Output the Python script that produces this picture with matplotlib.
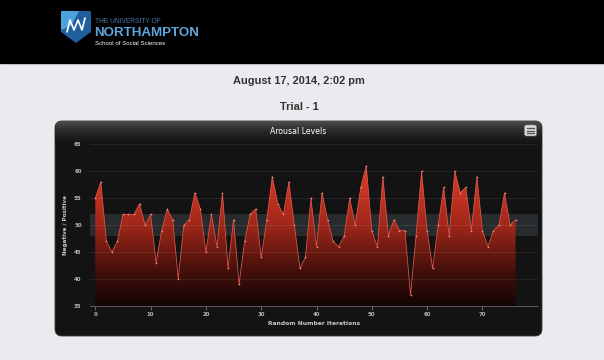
import matplotlib
matplotlib.use('Agg')
import matplotlib.pyplot as plt
import numpy as np
from matplotlib.patches import FancyBboxPatch, Rectangle, Polygon
from matplotlib.colors import LinearSegmentedColormap

# ---------------- data ----------------
iterations = list(range(77))
arousal = [55, 58, 47, 45, 47, 52, 52, 52, 54, 50,
           52, 43, 49, 53, 51, 40, 50, 51, 56, 53,
           45, 52, 46, 56, 42, 51, 39, 47, 52, 53,
           44, 51, 59, 54, 52, 58, 50, 42, 44, 55,
           46, 56, 51, 47, 46, 48, 55, 50, 57, 61,
           49, 46, 59, 48, 51, 49, 49, 37, 48, 60,
           49, 42, 50, 57, 48, 60, 56, 57, 49, 59,
           49, 46, 49, 50, 56, 50, 51]
y_ticks = [35, 40, 45, 50, 55, 60, 65]
x_ticks = [0, 10, 20, 30, 40, 50, 60, 70]
band = [48, 52]
chart_title = "Arousal Levels"
x_label = "Random Number Iterations"
y_label = "Negative / Positive"
date_text = "August 17, 2014, 2:02 pm"
trial_text = "Trial - 1"

# ---------------- figure ----------------
W, H = 604, 360
fig = plt.figure(figsize=(W / 100, H / 100), dpi=100)
fig.patch.set_facecolor('#e9ebee')

bg = fig.add_axes([0, 0, 1, 1])
bg.set_autoscale_on(False)
bg.set_xlim(0, W)
bg.set_ylim(H, 0)
bg.axis('off')

# header bar
bg.add_patch(Rectangle((0, 0), W, 63, color='black', zorder=1))

# logo shield
shield_dark = Polygon([(61, 11), (91, 11), (91, 32), (76, 43), (61, 32)], closed=True,
                      fc='#1f5f9e', ec='none', zorder=2)
bg.add_patch(shield_dark)
shield_light = Polygon([(61, 11), (79, 11), (71, 26), (61, 30)], closed=True,
                       fc='#4aa3dc', ec='none', zorder=3)
bg.add_patch(shield_light)
bg.plot([67, 70, 74, 78, 82, 85], [32, 20, 30, 20, 30, 18], color='white', lw=1.2,
        solid_capstyle='round', zorder=4)

hfont = 'Liberation Sans'
bg.text(95, 21.5, "THE UNIVERSITY OF", fontsize=4.8, color='#4d7bb0', family=hfont,
        va='center', ha='left', zorder=5)
bg.text(94.5, 32.5, "NORTHAMPTON", fontsize=9.6, color='#5ea6dc', family=hfont,
        fontweight='bold', va='center', ha='left', zorder=5)
bg.text(95, 43.5, "School of Social Sciences", fontsize=4.4, color='white', family=hfont,
        va='center', ha='left', zorder=5)

# date / trial
bg.text(298.5, 81, date_text, fontsize=7.9, color='#333333', family=hfont,
        fontweight='bold', ha='center', va='center')
bg.text(299, 106.5, trial_text, fontsize=7.9, color='#333333', family=hfont,
        fontweight='bold', ha='center', va='center')

# chart panel
panel = FancyBboxPatch((55, 121), 487, 215, boxstyle='round,pad=0,rounding_size=7',
                       fc='#131313', ec='#3a3a3a', lw=0.6, zorder=2)
bg.add_patch(panel)
grad = np.linspace(0, 1, 60).reshape(-1, 1)
head_cm = LinearSegmentedColormap.from_list('head', ['#4d4d4d', '#262626', '#141414'])
him = bg.imshow(grad, extent=[55, 542, 143, 121], cmap=head_cm, aspect='auto',
                zorder=3, interpolation='bilinear')
him.set_clip_path(panel)
bg.text(298.5, 131, chart_title, fontsize=5.6, color='white', family='DejaVu Sans',
        ha='center', va='center', zorder=5)

# menu icon
menu = FancyBboxPatch((524.5, 125), 12, 11, boxstyle='round,pad=0,rounding_size=2',
                      fc='#d9d9d9', ec='#888888', lw=0.4, zorder=5)
bg.add_patch(menu)
for yy in (128, 130.5, 133):
    bg.plot([527, 534], [yy, yy], color='#555555', lw=0.9, zorder=6)

bg.set_xlim(0, W)
bg.set_ylim(H, 0)

# ---------------- plot area ----------------
px_left, px_right, px_bottom, px_top = 90, 538, 306, 144.3
ax = fig.add_axes([px_left / W, 1 - px_bottom / H, (px_right - px_left) / W,
                   (px_bottom - px_top) / H])
ax.set_facecolor('none')
ax.set_zorder(3)

x0_px, unit_px = 95.3, 5.53
xmin = (px_left - x0_px) / unit_px
xmax = (px_right - x0_px) / unit_px
ymin, ymax = y_ticks[0], y_ticks[-1]

ax.axhspan(band[0], band[1], color='#282b2e', zorder=0, lw=0)

for yt in y_ticks[1:]:
    ax.axhline(yt, color='#ffffff', alpha=0.09, lw=0.6, zorder=4)

xs = np.array(iterations, dtype=float)
ys = np.array(arousal, dtype=float)
poly = Polygon(list(zip(xs, ys)) + [(xs[-1], ymin), (xs[0], ymin)], closed=True,
               fc='none', ec='none', transform=ax.transData)
ax.add_patch(poly)
area_cm = LinearSegmentedColormap.from_list(
    'area', [(0.0, '#140505'), (0.22, '#45100a'), (0.5, '#a0271a'),
             (0.8, '#d43a26'), (1.0, '#e8472f')])
g2 = np.linspace(0, 1, 300).reshape(-1, 1)
aim = ax.imshow(g2, extent=[xs[0], xs[-1], ymin, ymax], cmap=area_cm, origin='lower',
                aspect='auto', zorder=2, interpolation='bilinear')
aim.set_clip_path(poly)

ax.plot(xs, ys, color='#e4574a', lw=0.55, zorder=5)
ax.plot(xs, ys, 'o', color='#f08e80', ms=1.2, mew=0, zorder=6)

ax.set_xlim(xmin, xmax)
ax.set_ylim(ymin, ymax)

for s in ['top', 'right', 'left']:
    ax.spines[s].set_visible(False)
ax.spines['bottom'].set_color('#5a5a5a')
ax.spines['bottom'].set_linewidth(0.7)

ax.set_yticks(y_ticks)
ax.set_yticklabels([str(v) for v in y_ticks])
ax.set_xticks(x_ticks)
ax.set_xticklabels([str(v) for v in x_ticks])
ax.tick_params(axis='y', length=0, pad=6, labelsize=3.9, labelcolor='#b8b8b8')
ax.tick_params(axis='x', length=3, width=0.6, color='#777777', pad=1.5,
               labelsize=3.9, labelcolor='#b8b8b8')
for lab in ax.get_xticklabels() + ax.get_yticklabels():
    lab.set_fontweight('bold')

bg.text(314, 323.5, x_label, fontsize=4.3, color='#c8c8c8', fontweight='bold',
        ha='center', va='center', zorder=5)
bg.text(66, 225, y_label, fontsize=4.1, color='#c8c8c8', fontweight='bold',
        ha='center', va='center', rotation=90, zorder=5)

fig.savefig('out.png', dpi=100, facecolor=fig.get_facecolor())
